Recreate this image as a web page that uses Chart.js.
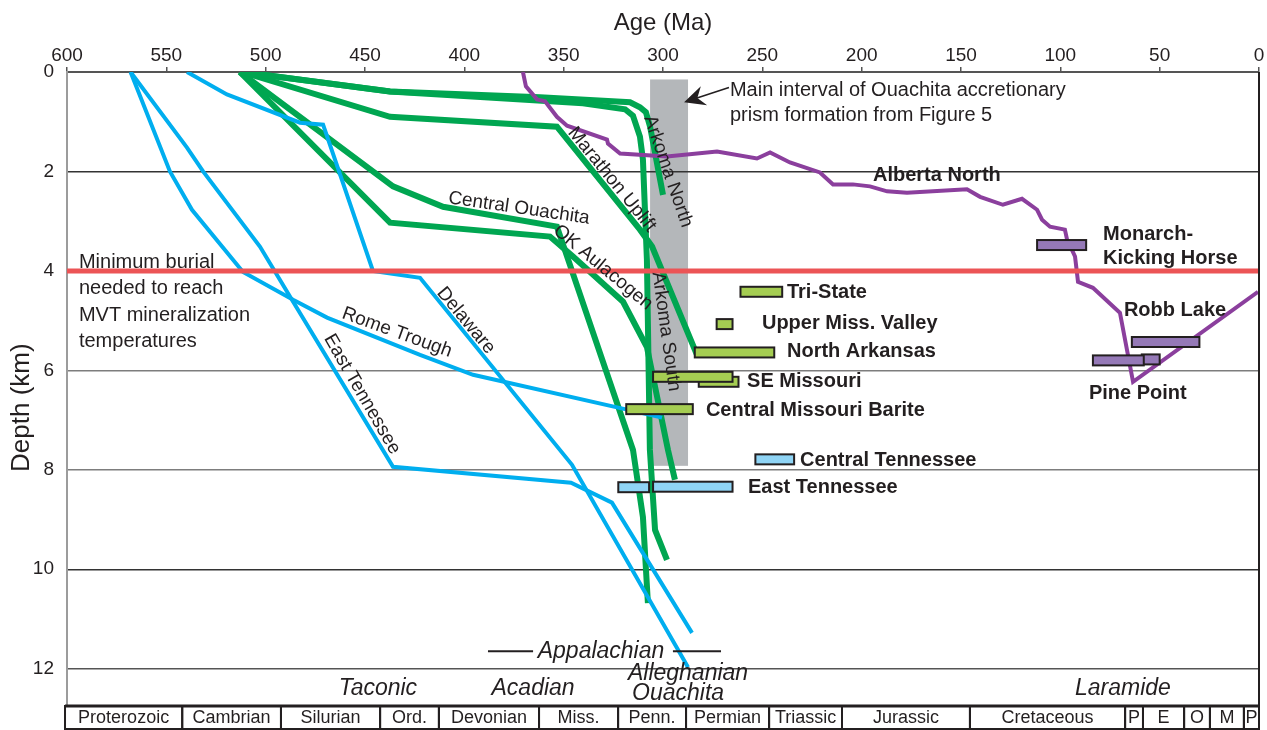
<!DOCTYPE html>
<html>
<head>
<meta charset="utf-8">
<script src="https://cdn.jsdelivr.net/npm/chart.js@4.4.1/dist/chart.umd.min.js"></script>
<style>
  html, body { margin: 0; padding: 0; background: #fff; }
  #wrap { width: 1267px; height: 730px; position: relative; }
</style>
</head>
<body>
<div id="wrap"><canvas id="burialChart"></canvas></div>
<script>
// Burial history curves, points are [age Ma, depth km]
const eastTennessee = [[568, 0], [539.6, 1.52], [531.5, 2.0], [502.9, 3.51], [487.7, 4.52], [435.9, 7.94], [346.3, 8.26], [325.7, 8.66], [285.4, 11.28]];
const romeTrough = [[568, 0], [548.2, 2.0], [537.1, 2.77], [511.4, 4.02], [486.2, 4.58], [469.1, 4.94], [422.3, 5.69], [395.6, 6.09], [318.1, 6.79], [300.5, 6.95]];
const delaware = [[539.6, 0], [519.5, 0.45], [482.7, 1.02], [471.1, 1.06], [446, 4.0], [422.3, 4.14], [345.8, 7.9], [287.4, 11.97]];

const arkomaNorth = [[512, 0], [437.4, 0.39], [361.9, 0.51], [316.6, 0.61], [311.6, 0.71], [308.6, 0.81], [306.5, 1.1], [300, 2.47]];
const arkomaSouth = [[512, 0], [437.4, 0.39], [340.3, 0.63], [319.1, 0.75], [315.1, 0.88], [311.6, 1.3], [310.1, 1.76], [308.1, 3.77], [306.6, 7.6], [304, 9.21], [298, 9.81]];
const marathonUplift = [[512, 0], [437.4, 0.9], [353.4, 1.1], [311.6, 3.17], [305.5, 3.51], [282.9, 5.69]];
const centralOuachita = [[513, 0], [435.9, 2.3], [410.7, 2.71], [353.4, 3.11], [315.1, 7.6], [310.1, 8.95], [307.6, 10.68]];
const okAulacogen = [[513, 0], [437.4, 3.03], [356.9, 3.31], [345.3, 3.71], [320.1, 4.62], [308.1, 5.53], [297.5, 7.6], [294, 8.2]];

const albertaNorth = [[370.5, 0], [369, 0.29], [363.4, 0.55], [359.4, 0.59], [353.4, 0.9], [348.3, 1.08], [328.2, 1.36], [327.7, 1.44],
  [321.6, 1.64], [298, 1.7], [272.8, 1.6], [252.7, 1.74], [246.1, 1.62], [236.1, 1.82], [221, 2.02], [214.4, 2.26], [204.4, 2.26],
  [195.8, 2.3], [187.2, 2.4], [177.2, 2.43], [147, 2.36], [140.4, 2.51], [128.9, 2.67], [119.3, 2.55], [111.7, 2.77], [109.2, 2.97],
  [105.2, 3.11], [97.7, 3.17], [96.6, 3.37], [92.6, 3.71], [91.1, 4.22], [83.6, 4.34], [70, 4.84], [63.4, 6.23], [0.5, 4.42]];

const minBurialDepth = 4;

// Mineralization age ranges: [older age, younger age, depth]
const midcontinentOres = [[282, 262, 6.23], [305, 265, 6.13], [261, 240, 4.42], [273, 265, 5.07], [284, 244, 5.64], [318.5, 285, 6.78]];
const tennesseeOres = [[253.5, 234, 7.79], [322.5, 307, 8.35], [305, 265, 8.34]];
const canadianOres = [[111.7, 87, 3.48], [64, 30, 5.43], [59, 50, 5.78], [83.6, 58, 5.8]];

// Ouachita accretionary prism interval: [older, younger, top depth, bottom depth]
const ouachitaInterval = [306.5, 287.4, 0.15, 7.92];

// Time scale along the bottom
const periodNames = ['Proterozoic', 'Cambrian', 'Silurian', 'Ord.', 'Devonian', 'Miss.', 'Penn.', 'Permian', 'Triassic', 'Jurassic', 'Cretaceous', 'P', 'E', 'O', 'M', 'P'];
const periodBounds = [601, 542, 492.3, 442.4, 412.8, 362.4, 322.6, 288.4, 246.6, 209.9, 145.5, 67.4, 58.4, 37.7, 24.7, 7.6, 0];

const FONT = '"Liberation Sans", Arial, Helvetica, sans-serif';
const INK = '#231f20';

const notes = [
  { text: 'Main interval of Ouachita accretionary', age: 266.3, depth: 0.49 },
  { text: 'prism formation from Figure 5', age: 266.3, depth: 0.98 },
  { text: 'Minimum burial', age: 594, depth: 3.935 },
  { text: 'needed to reach', age: 594, depth: 4.47 },
  { text: 'MVT mineralization', age: 594, depth: 5.0 },
  { text: 'temperatures', age: 594, depth: 5.53 },
  { text: 'Alberta North', age: 194.3, depth: 2.2, bold: true },
  { text: 'Monarch-', age: 78.5, depth: 3.37, bold: true },
  { text: 'Kicking Horse', age: 78.5, depth: 3.87, bold: true },
  { text: 'Tri-State', age: 237.6, depth: 4.54, bold: true },
  { text: 'Upper Miss. Valley', age: 250.2, depth: 5.16, bold: true },
  { text: 'North Arkansas', age: 237.6, depth: 5.73, bold: true },
  { text: 'SE Missouri', age: 257.7, depth: 6.33, bold: true },
  { text: 'Central Missouri Barite', age: 278.4, depth: 6.91, bold: true },
  { text: 'Central Tennessee', age: 231.0, depth: 7.92, bold: true },
  { text: 'East Tennessee', age: 257.2, depth: 8.46, bold: true },
  { text: 'Robb Lake', age: 68.0, depth: 4.91, bold: true },
  { text: 'Pine Point', age: 85.6, depth: 6.57, bold: true },
  { text: 'Taconic', age: 443.5, depth: 12.53, italic: true },
  { text: 'Acadian', age: 365.4, depth: 12.53, italic: true },
  { text: 'Alleghanian', age: 287.4, depth: 12.23, italic: true },
  { text: 'Ouachita', age: 292.4, depth: 12.63, italic: true },
  { text: 'Laramide', age: 68.5, depth: 12.53, italic: true },
  { text: 'Appalachian', age: 331.2, depth: 11.79, italic: true }
];

// curve names written along the lines
const curveNames = [
  { text: 'Central Ouachita', age: 372.5, depth: 2.74, angle: 8.3 },
  { text: 'OK Aulacogen', age: 330.2, depth: 3.93, angle: 39.6 },
  { text: 'Marathon Uplift', age: 325.7, depth: 2.16, angle: 51 },
  { text: 'Arkoma North', age: 297.5, depth: 2.0, angle: 71 },
  { text: 'Arkoma South', age: 298.5, depth: 5.22, angle: 82 },
  { text: 'Rome Trough', age: 433.9, depth: 5.24, angle: 20 },
  { text: 'Delaware', age: 399.2, depth: 5.0, angle: 50.4 },
  { text: 'East Tennessee', age: 451.5, depth: 6.48, angle: 60 }
];

const toXY = pts => pts.map(p => ({ x: p[0], y: p[1] }));

function curve(label, pts, color, width) {
  return {
    label: label,
    data: toXY(pts),
    showLine: true,
    borderColor: color,
    backgroundColor: color,
    borderWidth: width,
    pointRadius: 0,
    tension: 0,
    fill: false
  };
}

const GREEN = '#00a651';
const BLUE = '#00aeef';
const PURPLE = '#8b3f9d';

const gridColors = { 2: '#333', 4: '#777', 6: '#7d7d7d', 8: '#7d7d7d', 10: '#333', 12: '#555' };

// gray band sits under the grid lines
const backdrop = {
  id: 'backdrop',
  beforeDraw(chart) {
    const { ctx, scales: { x, y } } = chart;
    const [a0, a1, d0, d1] = ouachitaInterval;
    ctx.save();
    ctx.fillStyle = '#b4b7ba';
    ctx.fillRect(x.getPixelForValue(a0), y.getPixelForValue(d0),
      x.getPixelForValue(a1) - x.getPixelForValue(a0), y.getPixelForValue(d1) - y.getPixelForValue(d0));
    ctx.restore();
  }
};

const overlay = {
  id: 'overlay',
  afterDatasetsDraw(chart) {
    const { ctx, chartArea, scales: { x, y } } = chart;
    ctx.save();

    // ore deposit bars
    const drawBars = (rows, fill) => {
      rows.forEach(r => {
        const x0 = x.getPixelForValue(r[0]);
        const x1 = x.getPixelForValue(r[1]);
        const yc = y.getPixelForValue(r[2]);
        ctx.fillStyle = fill;
        ctx.fillRect(x0, yc - 5, x1 - x0, 10);
        ctx.lineWidth = 2;
        ctx.strokeStyle = INK;
        ctx.strokeRect(x0, yc - 5, x1 - x0, 10);
      });
    };
    drawBars(midcontinentOres, '#a5cd52');
    drawBars(tennesseeOres, '#8fd4f5');
    drawBars(canadianOres, '#9579b7');

    // arrow pointing at the prism interval
    const tx = x.getPixelForValue(266.8), ty = y.getPixelForValue(0.31);
    const hx = x.getPixelForValue(289.4), hy = y.getPixelForValue(0.61);
    const len = Math.hypot(hx - tx, hy - ty);
    const ux = (hx - tx) / len, uy = (hy - ty) / len;
    ctx.strokeStyle = INK;
    ctx.fillStyle = INK;
    ctx.lineWidth = 1.6;
    ctx.beginPath();
    ctx.moveTo(tx, ty);
    ctx.lineTo(hx - ux * 12, hy - uy * 12);
    ctx.stroke();
    ctx.beginPath();
    ctx.moveTo(hx, hy);
    ctx.lineTo(hx - ux * 21 - uy * 10, hy - uy * 21 + ux * 10);
    ctx.lineTo(hx - ux * 14, hy - uy * 14);
    ctx.lineTo(hx - ux * 21 + uy * 10, hy - uy * 21 - ux * 10);
    ctx.closePath();
    ctx.fill();

    // Appalachian dashes
    ctx.lineWidth = 2;
    [[388.1, 365.4], [295, 270.8]].forEach(s => {
      const yy = y.getPixelForValue(11.65);
      ctx.beginPath();
      ctx.moveTo(x.getPixelForValue(s[0]), yy);
      ctx.lineTo(x.getPixelForValue(s[1]), yy);
      ctx.stroke();
    });

    // text notes
    ctx.fillStyle = INK;
    notes.forEach(n => {
      if (n.italic) {
        ctx.font = 'italic 23px ' + FONT;
        ctx.textAlign = 'center';
      } else {
        ctx.font = (n.bold ? 'bold ' : '') + '20px ' + FONT;
        ctx.textAlign = 'left';
      }
      ctx.textBaseline = 'alphabetic';
      ctx.fillText(n.text, x.getPixelForValue(n.age), y.getPixelForValue(n.depth));
    });

    ctx.font = '19px ' + FONT;
    ctx.textAlign = 'center';
    ctx.textBaseline = 'middle';
    curveNames.forEach(n => {
      ctx.save();
      ctx.translate(x.getPixelForValue(n.age), y.getPixelForValue(n.depth));
      ctx.rotate(n.angle * Math.PI / 180);
      ctx.fillText(n.text, 0, 0);
      ctx.restore();
    });

    // right frame
    ctx.strokeStyle = INK;
    ctx.lineWidth = 2;
    ctx.beginPath();
    ctx.moveTo(chartArea.right, chartArea.top);
    ctx.lineTo(chartArea.right, chartArea.bottom);
    ctx.stroke();

    // geologic time scale boxes
    const top = chartArea.bottom + 1;
    const bottom = chart.height - 1;
    ctx.font = '18px ' + FONT;
    ctx.textBaseline = 'middle';
    ctx.textAlign = 'center';
    for (let i = 0; i < periodNames.length; i++) {
      const x0 = x.getPixelForValue(periodBounds[i]);
      const x1 = x.getPixelForValue(periodBounds[i + 1]);
      ctx.lineWidth = 2;
      ctx.strokeRect(x0, top, x1 - x0, bottom - top);
      ctx.fillText(periodNames[i], (x0 + x1) / 2, (top + bottom) / 2 + 1);
    }
    ctx.beginPath();
    ctx.lineWidth = 3;
    ctx.moveTo(x.getPixelForValue(601), top);
    ctx.lineTo(x.getPixelForValue(0), top);
    ctx.stroke();

    // depth axis title
    ctx.save();
    ctx.translate(22, y.getPixelForValue(6.75));
    ctx.rotate(-Math.PI / 2);
    ctx.font = '26px ' + FONT;
    ctx.fillText('Depth (km)', 0, 0);
    ctx.restore();

    ctx.restore();
  }
};

const redLine = curve('Minimum burial', [[600, minBurialDepth], [0, minBurialDepth]], '#ec5456', 5);

new Chart(document.getElementById('burialChart'), {
  type: 'scatter',
  data: {
    datasets: [
      redLine,
      curve('Alberta North', albertaNorth, PURPLE, 4),
      curve('East Tennessee', eastTennessee, BLUE, 4),
      curve('Rome Trough', romeTrough, BLUE, 4),
      curve('Delaware', delaware, BLUE, 4),
      curve('Arkoma North', arkomaNorth, GREEN, 6),
      curve('Arkoma South', arkomaSouth, GREEN, 6),
      curve('Marathon Uplift', marathonUplift, GREEN, 6),
      curve('Central Ouachita', centralOuachita, GREEN, 6),
      curve('OK Aulacogen', okAulacogen, GREEN, 6)
    ]
  },
  options: {
    responsive: true,
    maintainAspectRatio: false,
    animation: false,
    events: [],
    layout: { padding: { top: 0, left: 0, right: 8, bottom: 25 } },
    plugins: { legend: { display: false }, tooltip: { enabled: false } },
    scales: {
      x: {
        type: 'linear',
        position: 'top',
        min: 0,
        max: 600,
        reverse: true,
        afterFit(s) { s.height = 72; },
        ticks: { stepSize: 50, autoSkip: false, maxRotation: 0, color: INK, font: { family: FONT, size: 19 }, padding: 0 },
        grid: { drawOnChartArea: false, drawTicks: true, tickLength: 5, tickColor: '#555', lineWidth: 1.5 },
        border: { color: '#555', width: 2 },
        title: { display: true, text: 'Age (Ma)', color: INK, font: { family: FONT, size: 24 }, padding: { top: 9, bottom: 0 } }
      },
      y: {
        type: 'linear',
        min: 0,
        max: 12.73,
        reverse: true,
        afterFit(s) { s.width = 67; },
        ticks: { stepSize: 2, includeBounds: false, color: INK, font: { family: FONT, size: 19 }, padding: 13 },
        grid: {
          drawTicks: false,
          lineWidth: 1.5,
          color: c => gridColors[c.tick.value] || 'rgba(0,0,0,0)'
        },
        border: { color: '#9c9c9c', width: 2 }
      }
    }
  },
  plugins: [backdrop, overlay]
});
</script>
</body>
</html>
